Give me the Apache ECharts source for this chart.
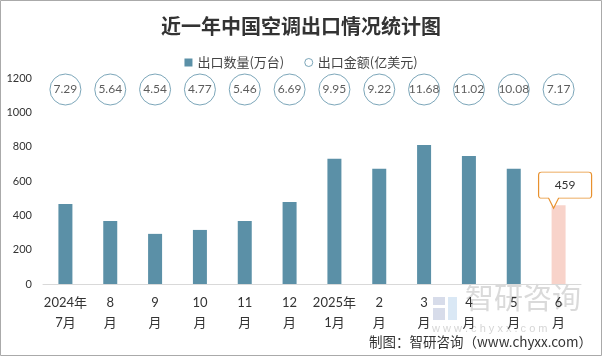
<!DOCTYPE html>
<html><head><meta charset="utf-8">
<script src="https://cdn.jsdelivr.net/npm/echarts@6/dist/echarts.min.js"></script>
<style>html,body{margin:0;padding:0;background:#fff}#c{width:602px;height:356px}</style>
</head><body><div id="c"></div>
<script>
var categories = ['2024年\n7月','8\n月','9\n月','10\n月','11\n月','12\n月','2025年\n1月','2\n月','3\n月','4\n月','5\n月','6\n月'];
var quantity = [466, 367, 292, 315, 367, 478, 729, 671, 810, 746, 671, 459];
var amount = [7.29, 5.64, 4.54, 4.77, 5.46, 6.69, 9.95, 9.22, 11.68, 11.02, 10.08, 7.17];
var yTicks = [0, 200, 400, 600, 800, 1000, 1200];

var FONT = "Lato, 'Noto Sans CJK SC', sans-serif";
var BLUE = '#5B90A7';
var PINK = '#F8D3CA';
var lastIdx = quantity.length - 1;

var chart = echarts.init(document.getElementById('c'));
chart.setOption({
  backgroundColor: '#fff',
  animation: false,
  textStyle: { fontFamily: FONT },
  title: {
    text: '近一年中国空调出口情况统计图',
    left: 'center', top: 11,
    textStyle: { fontSize: 20, fontWeight: 'bold', color: '#333', fontFamily: "'Noto Sans CJK SC', sans-serif" }
  },
  legend: {
    top: 51, left: 'center',
    itemWidth: 8, itemHeight: 8, itemGap: 20,
    textStyle: { fontSize: 13, color: '#444', fontFamily: "'Noto Sans CJK SC', sans-serif" },
    data: [
      { name: '出口数量(万台)', icon: 'rect' },
      { name: '出口金额(亿美元)', icon: 'circle', itemStyle: { color: '#fff', borderColor: BLUE, borderWidth: 1 } }
    ]
  },
  grid: [
    { left: 43, right: 21, top: 78, bottom: 72 },
    { left: 43, right: 21, top: 74, height: 31 }
  ],
  xAxis: [
    {
      type: 'category', data: categories, gridIndex: 0,
      axisLine: { lineStyle: { color: '#d9d9d9' } },
      axisTick: { show: false },
      axisLabel: { color: '#333', fontSize: 13, lineHeight: 20, margin: 9, interval: 0, fontFamily: FONT }
    },
    { type: 'category', data: categories, gridIndex: 1, show: false }
  ],
  yAxis: [
    {
      type: 'value', min: yTicks[0], max: yTicks[yTicks.length - 1], interval: 200, gridIndex: 0,
      axisLine: { show: false }, axisTick: { show: false }, splitLine: { show: false },
      axisLabel: { color: '#333', fontSize: 11, margin: 11, formatter: function (v) { return String(v); } }
    },
    { type: 'value', min: 0, max: 2, gridIndex: 1, show: false }
  ],
  series: [
    {
      name: '出口数量(万台)', type: 'bar', xAxisIndex: 0, yAxisIndex: 0,
      barWidth: 14,
      itemStyle: { color: BLUE },
      data: quantity.map(function (v, i) {
        return i === lastIdx ? { value: v, itemStyle: { color: PINK } } : v;
      }),
      markPoint: {
        symbol: 'path://M3,0 H50 Q53,0 53,3 V23 Q53,26 50,26 H20 L15,36 L10,26 H3 Q0,26 0,23 V3 Q0,0 3,0 Z',
        symbolSize: [53, 36],
        symbolKeepAspect: false,
        symbolOffset: [6.5, -15],
        itemStyle: { color: '#fff', borderColor: '#E8912E', borderWidth: 1 },
        label: { show: true, color: '#333', fontSize: 12, offset: [0, -5], formatter: function (p) { return p.value; } },
        data: [{ coord: [lastIdx, quantity[lastIdx]], value: quantity[lastIdx] }]
      }
    },
    {
      name: '出口金额(亿美元)', type: 'scatter', xAxisIndex: 1, yAxisIndex: 1,
      symbol: 'circle', symbolSize: 31,
      itemStyle: { color: '#fff', borderColor: BLUE, borderWidth: 1 },
      label: { show: true, position: 'inside', color: '#333', fontSize: 12, formatter: function (p) { return p.value[2].toFixed(2); } },
      data: amount.map(function (v, i) { return [i, 1, v]; })
    }
  ],
  graphic: [
    { type: 'rect', shape: { x: 0.5, y: 0.5, width: 601, height: 355 }, style: { fill: 'none', stroke: '#aaa', lineWidth: 1 }, silent: true },
    { type: 'rect', shape: { x: 433, y: 297, width: 12, height: 8 }, style: { fill: 'rgba(140,155,195,0.35)' }, silent: true },
    { type: 'rect', shape: { x: 433, y: 308, width: 12, height: 12 }, style: { fill: 'rgba(140,155,195,0.35)' }, silent: true },
    { type: 'rect', shape: { x: 448, y: 297, width: 9, height: 23 }, style: { fill: 'rgba(150,190,225,0.35)' }, silent: true },
    { type: 'text', left: 465, top: 283, style: { text: '智研咨询', fontSize: 29, fill: 'rgba(150,150,150,0.35)', fontFamily: "'Noto Sans CJK SC', sans-serif" }, silent: true },
    { type: 'text', left: 432, top: 323, style: { text: 'w w w . c h y x x . c o m', fontSize: 11, fill: 'rgba(150,150,150,0.4)' }, silent: true },
    { type: 'text', right: 10, top: 335, style: { text: '制图：智研咨询（www.chyxx.com）', fontSize: 13.5, fill: '#333', fontFamily: "'Noto Sans CJK SC', sans-serif" }, silent: true }
  ]
});
</script></body></html>
